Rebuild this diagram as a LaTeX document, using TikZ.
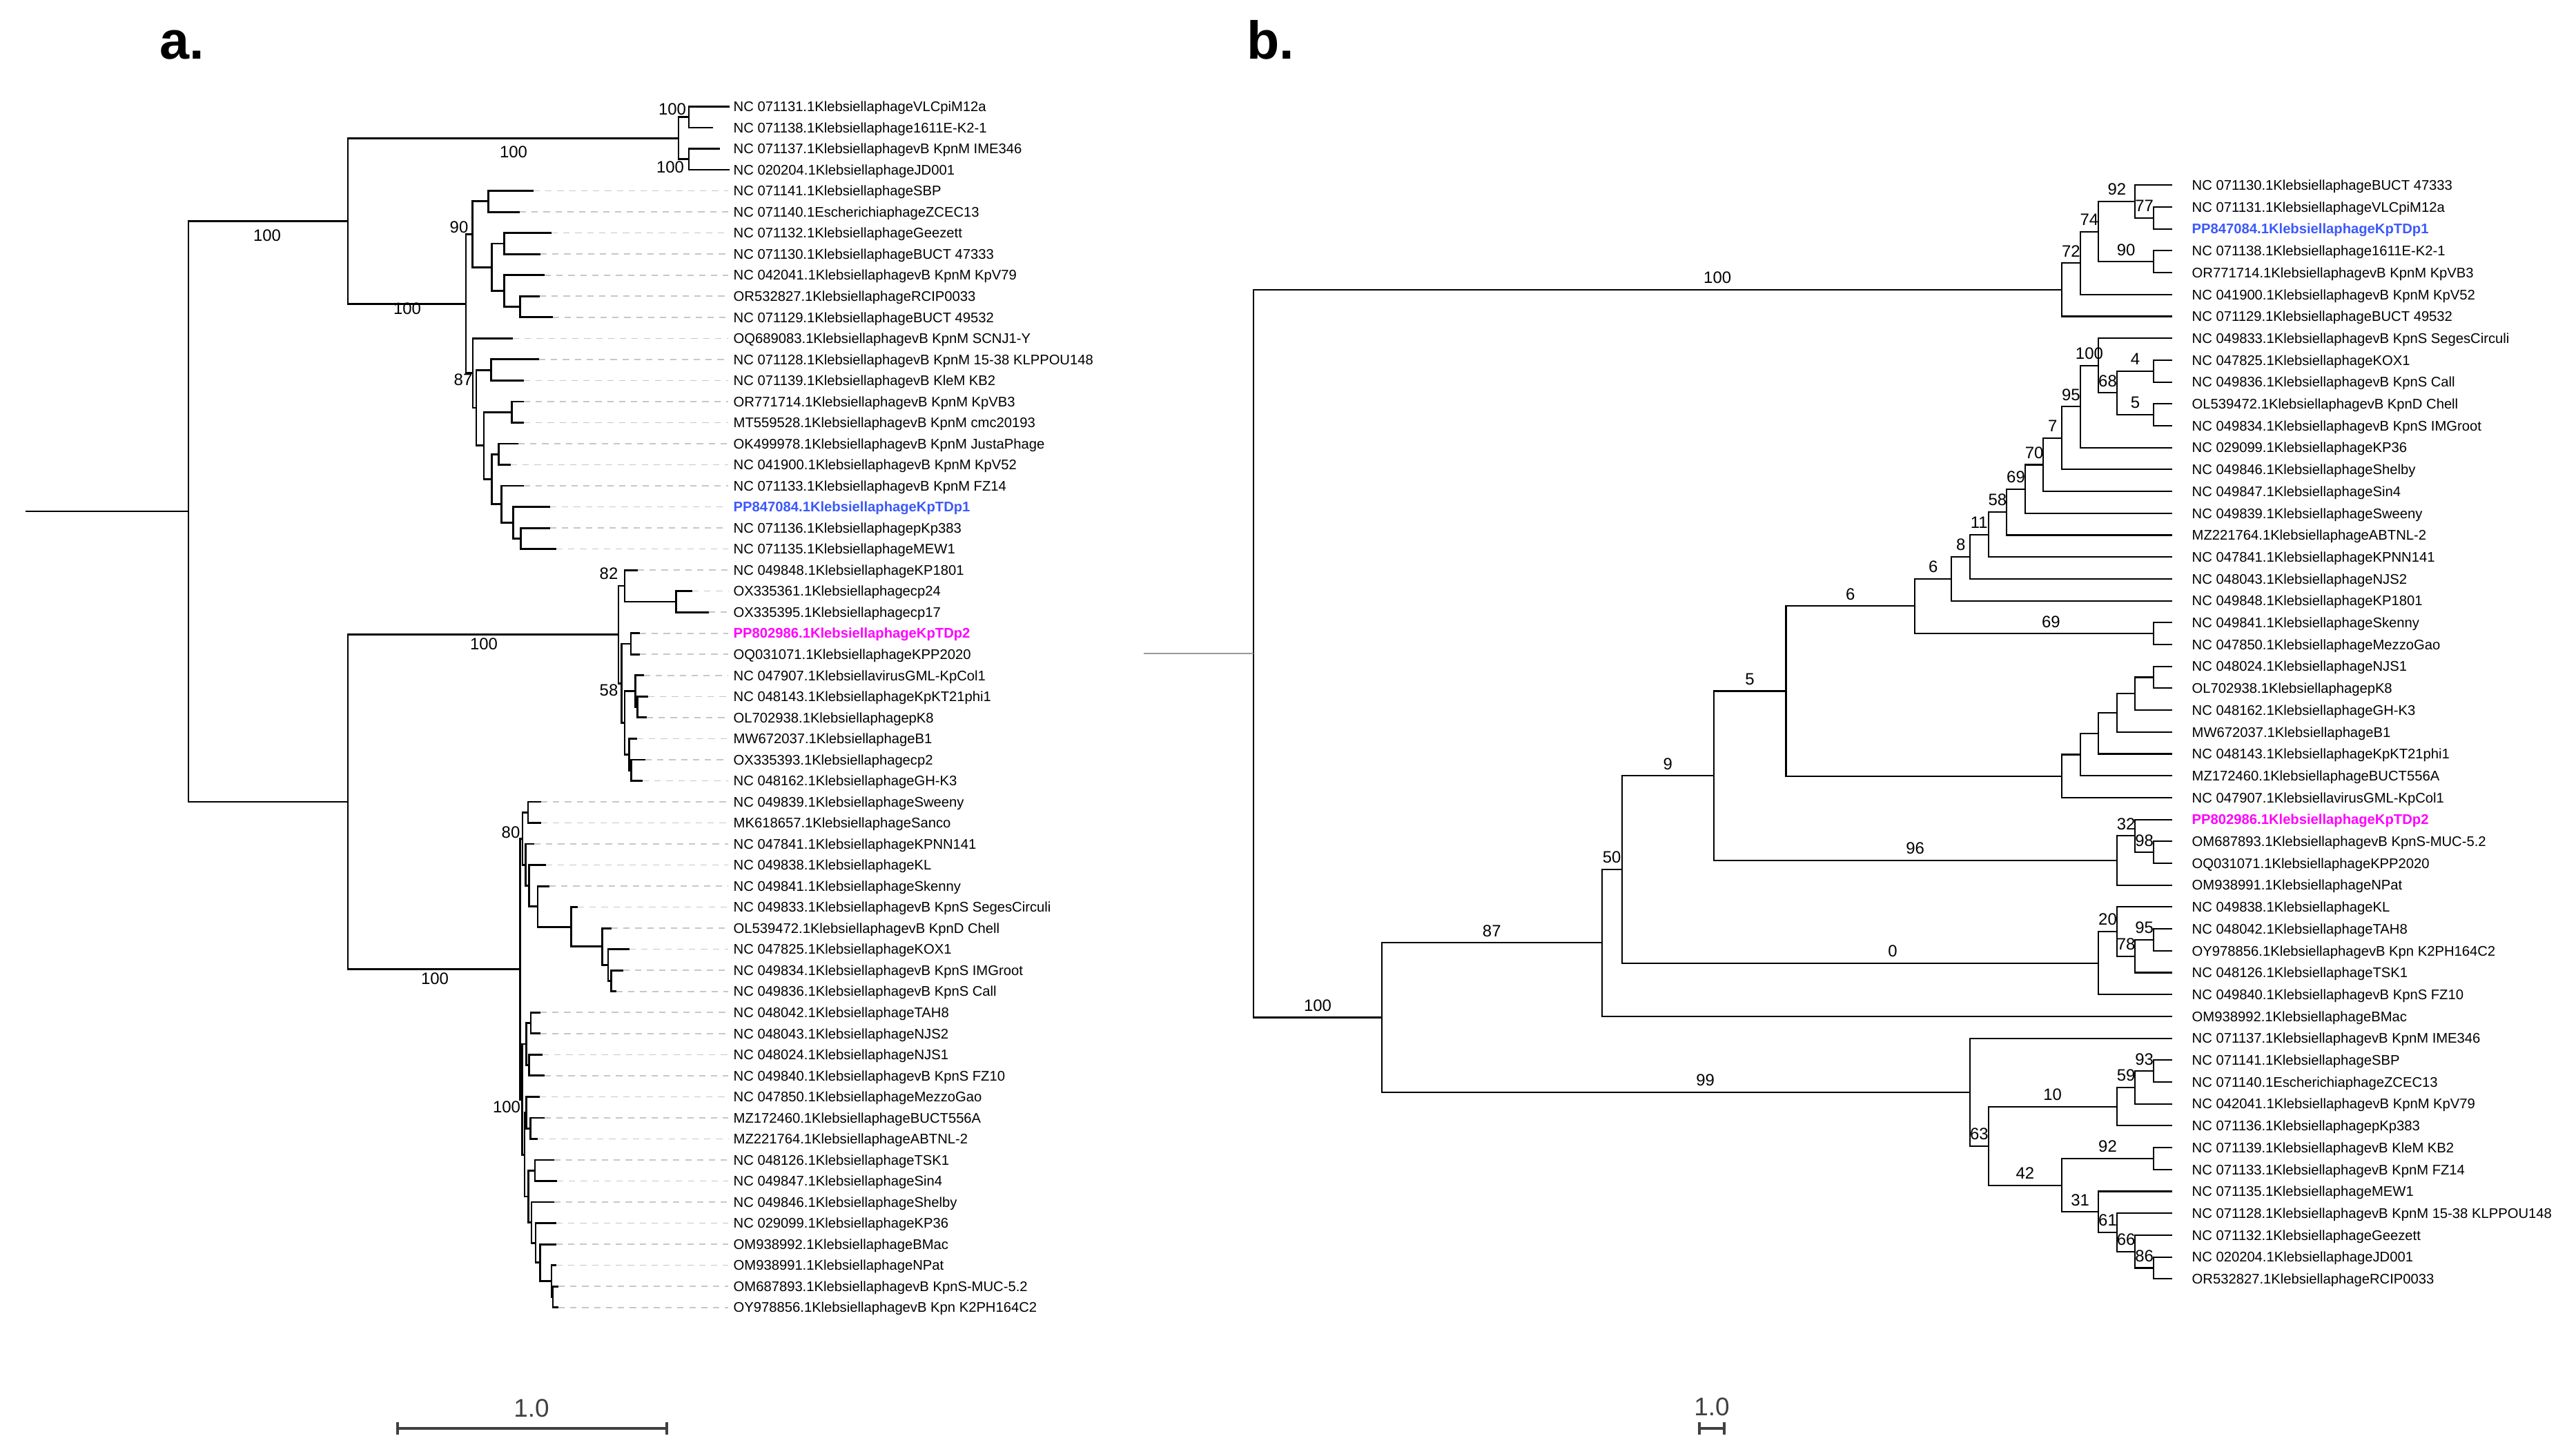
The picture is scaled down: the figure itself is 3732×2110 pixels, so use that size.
\documentclass[tikz,border=0pt]{standalone}
\usepackage{fontspec}
\setmainfont{Liberation Sans}
\usetikzlibrary{calc,arrows.meta}
\definecolor{kpblue}{RGB}{59,89,250}
\definecolor{kpmag}{RGB}{255,0,255}
\definecolor{bargray}{RGB}{64,64,64}
\tikzset{
  br/.style={line width=0.8pt},
  lead/.style={draw=black!22, line width=0.45pt, dash pattern=on 2.6pt off 2.3pt},
  leaf/.style={font=\fontsize{5.75}{6}\selectfont, anchor=west, inner sep=0pt, text height=4.1pt, text depth=0pt},
  bval/.style={font=\fontsize{6.8}{7}\selectfont, inner sep=0pt, text height=4.9pt, text depth=0pt},
  panel/.style={font=\fontsize{22}{24}\selectfont\bfseries, anchor=base west, inner sep=0pt},
  sbar/.style={draw=bargray, line width=1.2pt, {Bar[width=5pt]}-{Bar[width=5pt]}},
  sval/.style={font=\fontsize{10.5}{11}\selectfont, text=bargray, inner sep=0pt}
}
% clade: name, x, first child, second child
\newcommand\clade[4]{%
  \path let \p1=(#3), \p2=(#4) in coordinate (#1) at (#2*0.01cm,{0.5*(\y1+\y2)});
  \draw[br] (#3) -| (#1) |- (#4);}
% branch value above the branch parent->child
\newcommand\blab[4][.75]{\path (#2) |- (#3) node[bval, pos=#1, above=2.4pt] {#4};}

\begin{document}
\begin{tikzpicture}[x=0.01cm, y=-0.01cm]
\useasboundingbox (0,0) rectangle (3732,2110);
\node[panel] (pa) at (231,86) {a.};
\node[panel] (pb) at (1806,86) {b.};

%% ---------- a. ----------
\foreach \i/\x/\t in {1/1057/NC 071131.1KlebsiellaphageVLCpiM12a, 2/1033/NC 071138.1Klebsiellaphage1611E-K2-1,
  3/1043/NC 071137.1KlebsiellaphagevB KpnM IME346, 4/1057/NC 020204.1KlebsiellaphageJD001,
  5/773/NC 071141.1KlebsiellaphageSBP, 6/753/NC 071140.1EscherichiaphageZCEC13,
  7/799/NC 071132.1KlebsiellaphageGeezett, 8/783/NC 071130.1KlebsiellaphageBUCT 47333,
  9/789/NC 042041.1KlebsiellaphagevB KpnM KpV79, 10/782/OR532827.1KlebsiellaphageRCIP0033,
  11/801/NC 071129.1KlebsiellaphageBUCT 49532, 12/743/OQ689083.1KlebsiellaphagevB KpnM SCNJ1-Y,
  13/781/NC 071128.1KlebsiellaphagevB KpnM 15-38 KLPPOU148, 14/759/NC 071139.1KlebsiellaphagevB KleM KB2,
  15/759/OR771714.1KlebsiellaphagevB KpnM KpVB3, 16/759/MT559528.1KlebsiellaphagevB KpnM cmc20193,
  17/751/OK499978.1KlebsiellaphagevB KpnM JustaPhage, 18/740/NC 041900.1KlebsiellaphagevB KpnM KpV52,
  19/759/NC 071133.1KlebsiellaphagevB KpnM FZ14, 20/797/{\textcolor{kpblue}{\bfseries PP847084.1KlebsiellaphageKpTDp1}},
  21/797/NC 071136.1KlebsiellaphagepKp383, 22/806/NC 071135.1KlebsiellaphageMEW1,
  23/924/NC 049848.1KlebsiellaphageKP1801, 24/1003/OX335361.1Klebsiellaphagecp24,
  25/1027/OX335395.1Klebsiellaphagecp17, 26/927/{\textcolor{kpmag}{\bfseries PP802986.1KlebsiellaphageKpTDp2}},
  27/927/OQ031071.1KlebsiellaphageKPP2020, 28/933/NC 047907.1KlebsiellavirusGML-KpCol1,
  29/939/NC 048143.1KlebsiellaphageKpKT21phi1, 30/937/OL702938.1KlebsiellaphagepK8,
  31/923/MW672037.1KlebsiellaphageB1, 32/935/OX335393.1Klebsiellaphagecp2,
  33/931/NC 048162.1KlebsiellaphageGH-K3, 34/784/NC 049839.1KlebsiellaphageSweeny,
  35/784/MK618657.1KlebsiellaphageSanco, 36/774/NC 047841.1KlebsiellaphageKPNN141,
  37/791/NC 049838.1KlebsiellaphageKL, 38/796/NC 049841.1KlebsiellaphageSkenny,
  39/837/NC 049833.1KlebsiellaphagevB KpnS SegesCirculi, 40/886/OL539472.1KlebsiellaphagevB KpnD Chell,
  41/912/NC 047825.1KlebsiellaphageKOX1, 42/903/NC 049834.1KlebsiellaphagevB KpnS IMGroot,
  43/893/NC 049836.1KlebsiellaphagevB KpnS Call, 44/783/NC 048042.1KlebsiellaphageTAH8,
  45/783/NC 048043.1KlebsiellaphageNJS2, 46/786/NC 048024.1KlebsiellaphageNJS1,
  47/789/NC 049840.1KlebsiellaphagevB KpnS FZ10, 48/782/NC 047850.1KlebsiellaphageMezzoGao,
  49/789/MZ172460.1KlebsiellaphageBUCT556A, 50/779/MZ221764.1KlebsiellaphageABTNL-2,
  51/803/NC 048126.1KlebsiellaphageTSK1, 52/807/NC 049847.1KlebsiellaphageSin4,
  53/803/NC 049846.1KlebsiellaphageShelby, 54/806/NC 029099.1KlebsiellaphageKP36,
  55/806/OM938992.1KlebsiellaphageBMac, 56/806/OM938991.1KlebsiellaphageNPat,
  57/809/OM687893.1KlebsiellaphagevB KpnS-MUC-5.2, 58/809/OY978856.1KlebsiellaphagevB Kpn K2PH164C2} {
  \coordinate (a\i) at (\x,{123.97+30.53*\i});
  \node[leaf] (la\i) at (1062,{123.97+30.53*\i}) {\t};
}
\foreach \i in {5,...,58} \draw[lead] (a\i) -- ([xshift=-2pt]la\i.west);

\clade{t12}{998}{a1}{a2}
\clade{t34}{998}{a3}{a4}
\clade{T}{983}{t12}{t34}
\clade{c56}{707.3}{a5}{a6}
\clade{c78}{730.7}{a7}{a8}
\clade{c1011}{753.3}{a10}{a11}
\clade{cW}{730.7}{a9}{c1011}
\clade{cV}{712.3}{c78}{cW}
\clade{c90}{684.3}{c56}{cV}
\clade{c1314}{711.7}{a13}{a14}
\clade{c1516}{741.7}{a15}{a16}
\clade{c1718}{722.3}{a17}{a18}
\clade{c2122}{754.3}{a21}{a22}
\clade{cZ3}{743.3}{a20}{c2122}
\clade{cZ2}{726.7}{a19}{cZ3}
\clade{cZ}{712.7}{c1718}{cZ2}
\clade{cY}{701}{c1516}{cZ}
\clade{cX}{690}{c1314}{cY}
\clade{c87}{685}{a12}{cX}
\clade{U}{675}{c90}{c87}
\clade{N1}{504}{T}{U}
\clade{c2425}{979.3}{a24}{a25}
\clade{c82}{905}{a23}{c2425}
\clade{c2627}{914}{a26}{a27}
\clade{c2930}{923.3}{a29}{a30}
\clade{c2830}{920.7}{a28}{c2930}
\clade{c3233}{914.3}{a32}{a33}
\clade{c3133}{911.7}{a31}{c3233}
\clade{c58}{905}{c2830}{c3133}
\clade{cYb}{900.7}{c2627}{c58}
\clade{C2}{896}{c82}{cYb}
\clade{c3435}{765}{a34}{a35}
\clade{c4243}{885.7}{a42}{a43}
\clade{A7}{881}{a41}{c4243}
\clade{A6}{872.7}{a40}{A7}
\clade{A5}{827.7}{a39}{A6}
\clade{A4}{779}{a38}{A5}
\clade{A3}{766.7}{a37}{A4}
\clade{A2}{761.7}{a36}{A3}
\clade{c80}{757}{c3435}{A2}
\clade{c4445}{769}{a44}{a45}
\clade{c4647}{766.7}{a46}{a47}
\clade{B1}{762.7}{c4445}{c4647}
\clade{c4950}{768.3}{a49}{a50}
\clade{c4850}{762.7}{a48}{c4950}
\clade{c5152}{775}{a51}{a52}
\clade{c5758}{801}{a57}{a58}
\clade{c5658}{799}{a56}{c5758}
\clade{P55}{782.7}{a55}{c5658}
\clade{P54}{776}{a54}{P55}
\clade{P53}{770}{a53}{P54}
\clade{P51}{765.7}{c5152}{P53}
\clade{Q}{760}{c4850}{P51}
\clade{cB}{756.5}{B1}{Q}
\clade{R}{753.5}{c80}{cB}
\clade{N2}{504}{C2}{R}
\clade{N0}{273}{N1}{N2}
\coordinate (a0) at ($(N0)+(-236,0)$);
\draw[br] (a0) -- (N0);

\foreach \x/\y/\v [count=\k] in {387/341/100, 744/220/100, 590/447/100, 974/158/100, 971/242/100,
  665/329/90, 671/550/87, 701/933/100, 882/831/82, 882/1000/58, 630/1418/100, 740/1206/80, 734/1604/100}
  \node[bval] (va\k) at (\x,\y) {\v};

\coordinate (sa1) at (574,2070);
\coordinate (sa2) at (968,2070);
\draw[sbar] (sa1) -- (sa2);
\node[sval] (sva) at (770,2041) {1.0};

%% ---------- b. ----------
\begin{scope}[br/.style={line width=0.6pt}]
\foreach \i/\t in {1/NC 071130.1KlebsiellaphageBUCT 47333, 2/NC 071131.1KlebsiellaphageVLCpiM12a,
  3/{\textcolor{kpblue}{\bfseries PP847084.1KlebsiellaphageKpTDp1}}, 4/NC 071138.1Klebsiellaphage1611E-K2-1,
  5/OR771714.1KlebsiellaphagevB KpnM KpVB3, 6/NC 041900.1KlebsiellaphagevB KpnM KpV52,
  7/NC 071129.1KlebsiellaphageBUCT 49532, 8/NC 049833.1KlebsiellaphagevB KpnS SegesCirculi,
  9/NC 047825.1KlebsiellaphageKOX1, 10/NC 049836.1KlebsiellaphagevB KpnS Call,
  11/OL539472.1KlebsiellaphagevB KpnD Chell, 12/NC 049834.1KlebsiellaphagevB KpnS IMGroot,
  13/NC 029099.1KlebsiellaphageKP36, 14/NC 049846.1KlebsiellaphageShelby,
  15/NC 049847.1KlebsiellaphageSin4, 16/NC 049839.1KlebsiellaphageSweeny,
  17/MZ221764.1KlebsiellaphageABTNL-2, 18/NC 047841.1KlebsiellaphageKPNN141,
  19/NC 048043.1KlebsiellaphageNJS2, 20/NC 049848.1KlebsiellaphageKP1801,
  21/NC 049841.1KlebsiellaphageSkenny, 22/NC 047850.1KlebsiellaphageMezzoGao,
  23/NC 048024.1KlebsiellaphageNJS1, 24/OL702938.1KlebsiellaphagepK8,
  25/NC 048162.1KlebsiellaphageGH-K3, 26/MW672037.1KlebsiellaphageB1,
  27/NC 048143.1KlebsiellaphageKpKT21phi1, 28/MZ172460.1KlebsiellaphageBUCT556A,
  29/NC 047907.1KlebsiellavirusGML-KpCol1, 30/{\textcolor{kpmag}{\bfseries PP802986.1KlebsiellaphageKpTDp2}},
  31/OM687893.1KlebsiellaphagevB KpnS-MUC-5.2, 32/OQ031071.1KlebsiellaphageKPP2020,
  33/OM938991.1KlebsiellaphageNPat, 34/NC 049838.1KlebsiellaphageKL,
  35/NC 048042.1KlebsiellaphageTAH8, 36/OY978856.1KlebsiellaphagevB Kpn K2PH164C2,
  37/NC 048126.1KlebsiellaphageTSK1, 38/NC 049840.1KlebsiellaphagevB KpnS FZ10,
  39/OM938992.1KlebsiellaphageBMac, 40/NC 071137.1KlebsiellaphagevB KpnM IME346,
  41/NC 071141.1KlebsiellaphageSBP, 42/NC 071140.1EscherichiaphageZCEC13,
  43/NC 042041.1KlebsiellaphagevB KpnM KpV79, 44/NC 071136.1KlebsiellaphagepKp383,
  45/NC 071139.1KlebsiellaphagevB KleM KB2, 46/NC 071133.1KlebsiellaphagevB KpnM FZ14,
  47/NC 071135.1KlebsiellaphageMEW1, 48/NC 071128.1KlebsiellaphagevB KpnM 15-38 KLPPOU148,
  49/NC 071132.1KlebsiellaphageGeezett, 50/NC 020204.1KlebsiellaphageJD001,
  51/OR532827.1KlebsiellaphageRCIP0033} {
  \coordinate (b\i) at (3147,{236.6+31.7*\i});
  \node[leaf] (lb\i) at (3175,{236.6+31.7*\i}) {\t};
}
\clade{n77}{3120}{b2}{b3}
\clade{n92}{3093.4}{b1}{n77}
\clade{n90}{3120}{b4}{b5}
\clade{n74}{3040.2}{n92}{n90}
\clade{n72}{3013.6}{n74}{b6}
\clade{ntop}{2987}{n72}{b7}
\clade{n4}{3120}{b9}{b10}
\clade{n5}{3120}{b11}{b12}
\clade{n68}{3066.8}{n4}{n5}
\clade{n100}{3040.2}{b8}{n68}
\clade{n95}{3013.6}{n100}{b13}
\clade{n7}{2987}{n95}{b14}
\clade{n70}{2960.4}{n7}{b15}
\clade{n69}{2933.8}{n70}{b16}
\clade{n58}{2907.2}{n69}{b17}
\clade{n11}{2880.6}{n58}{b18}
\clade{n8}{2854}{n11}{b19}
\clade{n6b}{2827.4}{n8}{b20}
\clade{n69c}{3120}{b21}{b22}
\clade{n6a}{2774.2}{n6b}{n69c}
\clade{m24}{3120}{b23}{b24}
\clade{m25}{3093.4}{m24}{b25}
\clade{m26}{3066.8}{m25}{b26}
\clade{m27}{3040.2}{m26}{b27}
\clade{m28}{3013.6}{m27}{b28}
\clade{m29}{2987}{m28}{b29}
\clade{n5b}{2587.5}{n6a}{m29}
\clade{n98}{3120}{b31}{b32}
\clade{n32}{3093.4}{b30}{n98}
\clade{n96}{3066.8}{n32}{b33}
\clade{n9}{2482.6}{n5b}{n96}
\clade{n95c}{3120}{b35}{b36}
\clade{n78}{3093.4}{n95c}{b37}
\clade{n20}{3066.8}{b34}{n78}
\clade{n0}{3040.2}{n20}{b38}
\clade{n50a}{2349.8}{n9}{n0}
\clade{n50}{2320.6}{n50a}{b39}
\clade{n93}{3120}{b41}{b42}
\clade{n59}{3093.4}{n93}{b43}
\clade{n10}{3066.8}{n59}{b44}
\clade{n92b}{3120}{b45}{b46}
\clade{n86}{3120}{b50}{b51}
\clade{n66}{3093.4}{b49}{n86}
\clade{n61}{3066.8}{b48}{n66}
\clade{n31}{3040.2}{b47}{n61}
\clade{n42}{2987}{n92b}{n31}
\clade{n63}{2880.6}{n10}{n42}
\clade{n99}{2854}{b40}{n63}
\clade{n87}{2001.9}{n50}{n99}
\clade{rb}{1816}{ntop}{n87}
\coordinate (b0) at ($(rb)+(-159,0)$);
\draw[br, draw=black!40] (b0) -- (rb);
\end{scope}

\blab[.787]{rb}{ntop}{100}
\blab{ntop}{n72}{72}
\blab{n72}{n74}{74}
\blab{n74}{n92}{92}
\blab{n92}{n77}{77}
\blab{n74}{n90}{90}
\blab{n95}{n100}{100}
\blab{n100}{n68}{68}
\blab{n68}{n4}{4}
\blab{n68}{n5}{5}
\blab{n7}{n95}{95}
\blab{n70}{n7}{7}
\blab{n69}{n70}{70}
\blab{n58}{n69}{69}
\blab{n11}{n58}{58}
\blab{n8}{n11}{11}
\blab{n6b}{n8}{8}
\blab{n6a}{n6b}{6}
\blab{n5b}{n6a}{6}
\blab[.785]{n6a}{n69c}{69}
\blab{n9}{n5b}{5}
\blab{n50a}{n9}{9}
\blab{n9}{n96}{96}
\blab{n96}{n32}{32}
\blab{n32}{n98}{98}
\blab{n50}{n50a}{50}
\blab{n87}{n50}{87}
\blab[.784]{n50a}{n0}{0}
\blab{n0}{n20}{20}
\blab{n20}{n78}{78}
\blab{n78}{n95c}{95}
\blab{rb}{n87}{100}
\blab[.775]{n87}{n99}{99}
\blab{n99}{n63}{63}
\blab{n63}{n10}{10}
\blab{n10}{n59}{59}
\blab{n59}{n93}{93}
\blab{n63}{n42}{42}
\blab{n42}{n92b}{92}
\blab{n42}{n31}{31}
\blab{n31}{n61}{61}
\blab{n61}{n66}{66}
\blab{n66}{n86}{86}

\coordinate (sb1) at (2460,2070);
\coordinate (sb2) at (2500,2070);
\draw[sbar] (sb1) -- (sb2);
\node[sval] (svb) at (2480,2039) {1.0};
\end{tikzpicture}
\end{document}
